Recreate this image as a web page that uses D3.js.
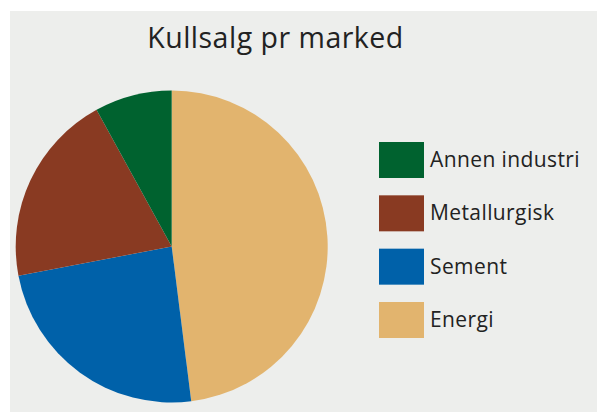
<!DOCTYPE html>
<html><head><meta charset="utf-8">
<script src="https://cdn.jsdelivr.net/npm/d3@7"></script>
<style>html,body{margin:0;padding:0;background:#fff;}svg{display:block;}</style>
</head><body>
<script>
const categories = ["Energi", "Sement", "Metallurgisk", "Annen industri"];
const values = [48, 24, 20, 8];
const colors = ["#E2B46E", "#0061A9", "#893A22", "#00622F"];
const legendOrder = ["Annen industri", "Metallurgisk", "Sement", "Energi"];
const title = "Kullsalg pr marked";

const W = 597, H = 412;
const svg = d3.select("body").append("svg").attr("width", W).attr("height", H);
svg.append("rect").attr("x", 10).attr("y", 11).attr("width", W - 10).attr("height", H - 11).attr("fill", "#EDEEEC");

svg.append("text").attr("x", 275.5).attr("y", 48).attr("text-anchor", "middle")
  .attr("font-family", "'Open Sans', sans-serif").attr("font-size", 28.5)
  .attr("letter-spacing", 0.5).attr("fill", "#222")
  .text(title);

const color = d3.scaleOrdinal().domain(categories).range(colors);
const data = categories.map((c, i) => ({cat: c, v: values[i]}));
const pie = d3.pie().value(d => d.v).sort(null);
const arc = d3.arc().innerRadius(0).outerRadius(156);
const g = svg.append("g").attr("transform", "translate(171.7,246.5)");
g.selectAll("path").data(pie(data)).join("path")
  .attr("d", arc).attr("fill", d => color(d.data.cat));

const y = d3.scalePoint().domain(legendOrder).range([160, 320]);
const lg = svg.append("g");
const items = lg.selectAll("g").data(legendOrder).join("g")
  .attr("transform", d => `translate(379,${y(d)})`);
items.append("rect").attr("x", 0).attr("y", -18).attr("width", 45).attr("height", 36)
  .attr("fill", d => color(d));
items.append("text").attr("x", 51).attr("y", 7)
  .attr("font-family", "'Open Sans', sans-serif").attr("font-size", 21)
  .attr("letter-spacing", 0.4).attr("fill", "#222")
  .text(d => d);
</script>
</body></html>
